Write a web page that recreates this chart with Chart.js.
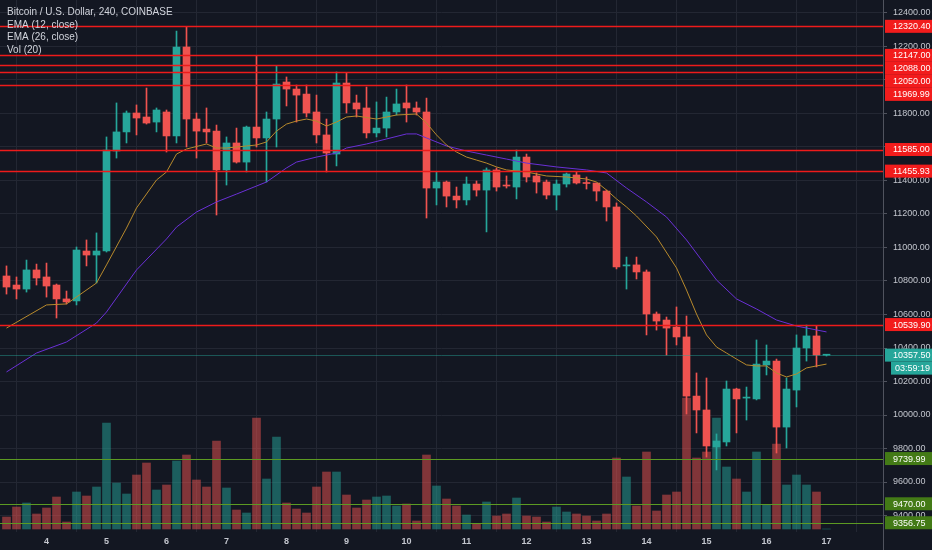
<!DOCTYPE html>
<html>
<head>
<meta charset="utf-8">
<script src="https://cdn.jsdelivr.net/npm/chart.js@4.4.1/dist/chart.umd.min.js"></script>
<style>
  html, body { margin: 0; padding: 0; background: #131722; }
  #wrap { width: 932px; height: 550px; }
</style>
</head>
<body>
<div id="wrap"><canvas id="chart" width="932" height="550"></canvas></div>
<script>
// BTC/USD 4h candles, 3 Aug 12:00 .. 17 Aug 00:00 (Coinbase)
const opens = [10830,10776,10752,10866,10824,10776,10693,10681,10979,10955,
  10979,11576,11690,11803,11779,11749,11809,11666,12197,11767,
  11707,11695,11463,11624,11510,11719,11654,11767,11988,11946,
  11916,11809,11672,11558,11982,11863,11833,11684,11713,11809,
  11863,11833,11809,11355,11391,11307,11284,11379,11343,11463,
  11373,11361,11540,11427,11391,11313,11379,11433,11388,11385,
  11337,11242,10890,10896,10854,10603,10567,10525,10466,10113,
  10030,9809,9839,10155,10101,10096,10299,10322,9928,10149,
  10400,10472,10357];
const highs = [10890,10824,10925,10901,10907,10782,10740,11003,11045,11087,
  11660,11863,11815,11851,11952,11833,11821,12292,12316,11803,
  11833,11731,11660,11713,11725,12143,11809,12084,12018,11970,
  11970,11910,11767,12048,12042,11910,11958,11869,11898,11946,
  11970,11869,11892,11451,11397,11361,11421,11397,11475,11475,
  11427,11582,11558,11445,11403,11403,11445,11451,11421,11385,
  11343,11266,10943,10943,10866,10615,10585,10645,10591,10251,
  10221,9887,10203,10160,10167,10448,10418,10334,10221,10478,
  10537,10531,10362];
const lows = [10722,10693,10734,10776,10704,10579,10663,10657,10890,10788,
  10973,11534,11624,11672,11737,11690,11570,11624,11600,11534,
  11624,11194,11373,11504,11451,11600,11391,11600,11845,11749,
  11779,11624,11451,11487,11803,11779,11654,11660,11660,11791,
  11749,11791,11176,11254,11242,11236,11254,11307,11093,11337,
  11355,11290,11391,11325,11290,11224,11361,11379,11349,11278,
  11158,10872,10752,10812,10478,10507,10358,10418,10006,9893,
  9749,9672,9815,9893,9970,10090,10239,9773,9803,10048,
  10322,10287,10352];
const closes = [10764,10752,10866,10818,10770,10693,10675,10985,10955,10979,
  11582,11690,11803,11773,11743,11821,11666,12197,11767,11695,
  11690,11463,11624,11510,11719,11654,11767,11976,11946,11910,
  11803,11672,11564,11982,11863,11827,11684,11713,11809,11857,
  11833,11809,11355,11391,11307,11284,11379,11343,11463,11361,
  11367,11540,11421,11391,11313,11379,11439,11385,11382,11337,
  11242,10884,10896,10854,10603,10561,10519,10466,10113,10030,
  9815,9845,10155,10096,10107,10304,10322,9928,10155,10400,
  10472,10358,10357.5];
const volumes = [720,1320,1560,900,1260,1920,420,2220,1980,2520,
  6360,2760,2100,3240,3960,2340,2640,4080,4440,2940,
  2520,5280,2460,1140,960,6660,3000,5520,1560,1200,
  960,2520,3420,3420,2040,1260,1740,1920,1980,1380,
  1500,480,4440,2580,1800,1380,840,300,1620,780,
  900,1860,780,720,420,1320,1020,900,780,480,
  900,4260,3120,1380,4620,1080,2040,2220,7860,4260,
  4620,6660,3720,3000,2220,4620,1440,5100,2640,3240,
  2640,2220,0];

// EMA lines, read at these candle indexes
const ema12Idx = [0,4,6,9,10,12,13,15,16,17,18,20,21,22,24,25,26,27,28,29,30,31,32,33,34,35,37,39,41,42,
  43,44,45,46,47,48,49,50,52,54,56,58,59,60,61,62,63,65,67,68,69,70,71,72,73,74,75,76,77,78,79,80,81,82];
const ema12 = [10519,10657,10663,10788,10896,11116,11236,11403,11451,11558,11588,11618,11594,11594,11606,
  11612,11630,11695,11737,11755,11767,11755,11725,11749,11779,11785,11767,11791,11797,11743,
  11672,11612,11570,11540,11522,11504,11481,11463,11451,11427,11421,11409,11391,11343,11290,
  11242,11188,11063,10878,10746,10603,10478,10406,10370,10334,10299,10293,10293,10251,10227,
  10245,10281,10293,10304];
const ema26Idx = [0,3,6,9,10,13,16,17,19,21,23,25,26,28,29,31,33,34,36,38,40,41,42,44,46,48,50,52,55,58,
  60,62,64,66,68,71,73,75,77,79,82];
const ema26 = [10257,10370,10436,10549,10615,10866,11051,11122,11212,11272,11319,11367,11391,11475,11510,
  11540,11564,11594,11618,11648,11678,11678,11654,11606,11576,11552,11528,11504,11481,11463,
  11445,11355,11272,11182,11045,10806,10693,10633,10567,10531,10496];

const dayLabels = ['4','5','6','7','8','9','10','11','12','13','14','15','16','17'];
const dayStart = [4,10,16,22,28,34,40,46,52,58,64,70,76,82];
const priceTicks = [9400,9600,9800,10000,10200,10400,10600,10800,11000,11200,11400,11600,11800,12000,12200,12400];

const redLevels = [12320.40, 12147.00, 12088.00, 12050.00, 11969.99, 11585.00, 11455.93, 10539.90];
const greenLevels = [9739.99, 9470.00, 9356.75];
const lastPrice = 10357.50;
const countdown = '03:59:19';

const legendLines = ['Bitcoin / U.S. Dollar, 240, COINBASE', 'EMA (12, close)', 'EMA (26, close)', 'Vol (20)'];

const BG = '#131722';
const GRID = '#232733';
const UP = '#26a69a';
const DOWN = '#ef5350';
const RED_LINE = '#ee1b1b';
const GREEN_LINE = '#5c9a22';
const FONT = '"Liberation Sans", Arial, sans-serif';

const isUp = i => closes[i] >= opens[i];
const candleColors = opens.map((_, i) => isUp(i) ? UP : DOWN);
const volColors = opens.map((_, i) => isUp(i) ? 'rgba(38,166,154,0.5)' : 'rgba(239,83,80,0.5)');

const levelsPlugin = {
    id: 'levels',
    beforeDraw(chart) {
        const ctx = chart.ctx;
        ctx.save();
        ctx.fillStyle = BG;
        ctx.fillRect(0, 0, chart.width, chart.height);
        ctx.restore();
    },
    afterDatasetsDraw(chart) {
        const { ctx, chartArea: a, scales: { y } } = chart;
        ctx.save();
        ctx.beginPath();
        ctx.rect(a.left, a.top, a.right - a.left, a.bottom - a.top);
        ctx.clip();
        const hline = (v, color, w) => {
            const py = Math.round(y.getPixelForValue(v)) + 0.5;
            ctx.strokeStyle = color;
            ctx.lineWidth = w;
            ctx.beginPath();
            ctx.moveTo(a.left, py);
            ctx.lineTo(a.right, py);
            ctx.stroke();
        };
        hline(lastPrice, 'rgba(38,166,154,0.45)', 1);
        redLevels.forEach(v => hline(v, RED_LINE, 1.3));
        greenLevels.forEach(v => hline(v, GREEN_LINE, 1.2));
        ctx.restore();
    },
    afterDraw(chart) {
        const { ctx, chartArea: a, scales: { y } } = chart;
        ctx.save();
        // price axis border
        ctx.strokeStyle = '#50535e';
        ctx.lineWidth = 1;
        ctx.beginPath();
        ctx.moveTo(a.right + 0.5, 0);
        ctx.lineTo(a.right + 0.5, chart.height);
        ctx.stroke();

        // price tags, pushed down when they collide
        const tags = [
            ...redLevels.map(v => ({ v, bg: '#f21c1c' })),
            ...greenLevels.map(v => ({ v, bg: '#437a16' })),
            { v: lastPrice, bg: UP, sub: countdown },
        ].map(t => ({ ...t, py: y.getPixelForValue(t.v) }))
         .sort((p, q) => p.py - q.py);
        let prev = -Infinity;
        const h = 13;
        tags.forEach(t => {
            t.py = Math.max(t.py, prev + h);
            prev = t.py + (t.sub ? h : 0);
        });
        ctx.font = '9px ' + FONT;
        ctx.textBaseline = 'middle';
        tags.forEach(t => {
            ctx.fillStyle = t.bg;
            ctx.fillRect(a.right + 2, t.py - h / 2, chart.width - a.right - 2, h);
            ctx.fillStyle = '#ffffff';
            ctx.fillText(t.v.toFixed(2), a.right + 10, t.py + 0.5);
            if (t.sub) {
                ctx.fillStyle = t.bg;
                ctx.fillRect(a.right + 8, t.py + h / 2, chart.width - a.right - 8, h);
                ctx.fillStyle = '#ffffff';
                ctx.fillText(t.sub, a.right + 12, t.py + h + 0.5);
            }
        });

        // top-left legend
        ctx.font = '10px ' + FONT;
        ctx.fillStyle = '#d1d4dc';
        legendLines.forEach((s, k) => ctx.fillText(s, 7, 12.5 + k * 12.5));
        ctx.restore();
    }
};

new Chart(document.getElementById('chart'), {
    type: 'bar',
    data: {
        datasets: [
            {
                type: 'line',
                label: 'EMA (12, close)',
                data: ema12Idx.map((x, k) => ({ x, y: ema12[k] })),
                borderColor: '#b88a2c',
                borderWidth: 1,
                pointRadius: 0,
                tension: 0,
                order: 0,
            },
            {
                type: 'line',
                label: 'EMA (26, close)',
                data: ema26Idx.map((x, k) => ({ x, y: ema26[k] })),
                borderColor: '#6a30d6',
                borderWidth: 1,
                pointRadius: 0,
                tension: 0,
                order: 0,
            },
            {
                label: 'body',
                data: opens.map((o, i) => ({ x: i, y: [o, closes[i]] })),
                backgroundColor: candleColors,
                barThickness: 7,
                minBarLength: 1,
                grouped: false,
                order: 1,
            },
            {
                label: 'wick',
                data: lows.map((l, i) => ({ x: i, y: [l, highs[i]] })),
                backgroundColor: candleColors,
                barThickness: 1,
                minBarLength: 1,
                grouped: false,
                order: 2,
            },
            {
                label: 'Vol',
                data: volumes.map((v, i) => ({ x: i, y: v })),
                backgroundColor: volColors,
                barThickness: 8,
                grouped: false,
                yAxisID: 'vol',
                order: 3,
            },
        ],
    },
    options: {
        responsive: false,
        animation: false,
        events: [],
        layout: { padding: 0 },
        plugins: {
            legend: { display: false },
            tooltip: { enabled: false },
        },
        scales: {
            x: {
                type: 'linear',
                min: -0.65,
                max: 87.65,
                offset: false,
                grid: { color: GRID, drawTicks: false },
                border: { display: false },
                ticks: {
                    autoSkip: false,
                    maxRotation: 0,
                    padding: 4,
                    color: '#c3c6ce',
                    font: { family: FONT, size: 9, weight: 'bold' },
                    callback: (v, k) => dayLabels[k],
                },
                afterBuildTicks: s => { s.ticks = dayStart.map(v => ({ value: v })); },
                afterFit: s => { s.height = 18; s.paddingLeft = 0; s.paddingRight = 0; },
            },
            y: {
                position: 'right',
                min: 9301.5,
                max: 12477.6,
                grid: { color: GRID, tickColor: '#50535e', tickLength: 4 },
                border: { display: false },
                ticks: {
                    padding: 6,
                    color: '#c3c6ce',
                    font: { family: FONT, size: 9 },
                    callback: v => v.toFixed(2),
                },
                afterBuildTicks: s => { s.ticks = priceTicks.map(v => ({ value: v })); },
                afterFit: s => { s.width = 49; s.paddingTop = 0; s.paddingBottom = 0; },
            },
            vol: {
                display: false,
                min: -180,
                max: 31740,
            },
        },
    },
    plugins: [levelsPlugin],
});
</script>
</body>
</html>
